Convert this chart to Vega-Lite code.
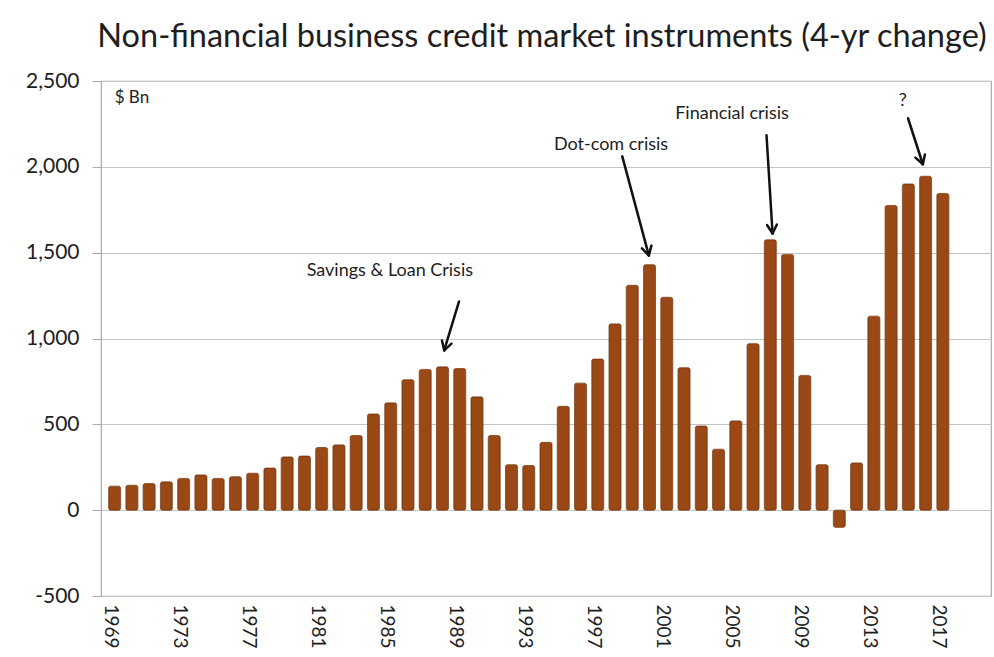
{
  "$schema": "https://vega.github.io/schema/vega-lite/v6.json",
  "width": 890,
  "height": 515,
  "autosize": {"type": "none"},
  "padding": {"left": 101, "top": 81, "right": 3, "bottom": 61},
  "background": "white",
  "config": {
    "font": "Lato",
    "view": {"stroke": "#a8a8a8", "strokeWidth": 1.2}
  },
  "title": {
    "text": "Non-financial business credit market instruments (4-yr change)",
    "fontSize": 32.5,
    "font": "Lato",
    "fontWeight": "normal",
    "color": "#1e1e1e",
    "anchor": "middle",
    "dx": -4,
    "offset": 17
  },
  "datasets": {
    "bars": [
      {"year": 1969, "value": 140}, {"year": 1970, "value": 145}, {"year": 1971, "value": 155},
      {"year": 1972, "value": 165}, {"year": 1973, "value": 185}, {"year": 1974, "value": 205},
      {"year": 1975, "value": 185}, {"year": 1976, "value": 195}, {"year": 1977, "value": 215},
      {"year": 1978, "value": 245}, {"year": 1979, "value": 310}, {"year": 1980, "value": 315},
      {"year": 1981, "value": 365}, {"year": 1982, "value": 380}, {"year": 1983, "value": 435},
      {"year": 1984, "value": 560}, {"year": 1985, "value": 625}, {"year": 1986, "value": 760},
      {"year": 1987, "value": 820}, {"year": 1988, "value": 835}, {"year": 1989, "value": 825},
      {"year": 1990, "value": 660}, {"year": 1991, "value": 435}, {"year": 1992, "value": 265},
      {"year": 1993, "value": 260}, {"year": 1994, "value": 395}, {"year": 1995, "value": 605},
      {"year": 1996, "value": 740}, {"year": 1997, "value": 880}, {"year": 1998, "value": 1085},
      {"year": 1999, "value": 1310}, {"year": 2000, "value": 1430}, {"year": 2001, "value": 1240},
      {"year": 2002, "value": 830}, {"year": 2003, "value": 490}, {"year": 2004, "value": 355},
      {"year": 2005, "value": 520}, {"year": 2006, "value": 970}, {"year": 2007, "value": 1575},
      {"year": 2008, "value": 1490}, {"year": 2009, "value": 785}, {"year": 2010, "value": 265},
      {"year": 2011, "value": -100}, {"year": 2012, "value": 275}, {"year": 2013, "value": 1130},
      {"year": 2014, "value": 1775}, {"year": 2015, "value": 1900}, {"year": 2016, "value": 1945},
      {"year": 2017, "value": 1845}
    ],
    "arrows": [
      {"arrow": "Savings & Loan", "part": "shaft", "xa": 1988.96, "ya": 1216, "xb": 1988.10, "yb": 931},
      {"arrow": "Savings & Loan", "part": "head1", "xa": 1988.52, "ya": 970, "xb": 1988.10, "yb": 931},
      {"arrow": "Savings & Loan", "part": "head2", "xa": 1987.97, "ya": 988, "xb": 1988.10, "yb": 931},
      {"arrow": "Dot-com", "part": "shaft", "xa": 1998.42, "ya": 2061, "xb": 1999.96, "yb": 1484},
      {"arrow": "Dot-com", "part": "head1", "xa": 2000.11, "ya": 1541, "xb": 1999.96, "yb": 1484},
      {"arrow": "Dot-com", "part": "head2", "xa": 1999.56, "ya": 1525, "xb": 1999.96, "yb": 1484},
      {"arrow": "Financial", "part": "shaft", "xa": 2006.78, "ya": 2184, "xb": 2007.13, "yb": 1612},
      {"arrow": "Financial", "part": "head1", "xa": 2007.38, "ya": 1664, "xb": 2007.13, "yb": 1612},
      {"arrow": "Financial", "part": "head2", "xa": 2006.81, "ya": 1661, "xb": 2007.13, "yb": 1612},
      {"arrow": "?", "part": "shaft", "xa": 2014.98, "ya": 2283, "xb": 2015.84, "yb": 2015},
      {"arrow": "?", "part": "head1", "xa": 2015.96, "ya": 2072, "xb": 2015.84, "yb": 2015},
      {"arrow": "?", "part": "head2", "xa": 2015.41, "ya": 2054, "xb": 2015.84, "yb": 2015}
    ],
    "notes": [
      {"label": "Savings & Loan Crisis", "x": 1984.95, "y": 1391},
      {"label": "Dot-com crisis", "x": 1997.77, "y": 2127},
      {"label": "Financial crisis", "x": 2004.78, "y": 2306},
      {"label": "?", "x": 2014.67, "y": 2383}
    ],
    "unit": [
      {"label": "$ Bn", "x": 1969.0, "y": 2399}
    ]
  },
  "layer": [
    {
      "data": {"name": "bars"},
      "mark": {"type": "bar", "width": 12, "color": "#9a4815", "stroke": "#7a3a10", "strokeWidth": 0.8, "cornerRadius": 2},
      "encoding": {
        "x": {
          "field": "year",
          "type": "quantitative",
          "scale": {"domain": [1968.5, 2019.5], "nice": false, "zero": false},
          "axis": {
            "title": null,
            "values": [1969, 1973, 1977, 1981, 1985, 1989, 1993, 1997, 2001, 2005, 2009, 2013, 2017],
            "format": "d",
            "labelAngle": 90,
            "labelFontSize": 19,
            "labelColor": "#1e1e1e",
            "labelPadding": 8,
            "labelOffset": -4,
            "ticks": false,
            "domain": false,
            "grid": false
          }
        },
        "y": {
          "field": "value",
          "type": "quantitative",
          "scale": {"domain": [-500, 2500], "nice": false},
          "axis": {
            "title": null,
            "values": [-500, 0, 500, 1000, 1500, 2000, 2500],
            "format": ",d",
            "labelExpr": "replace(datum.label, '\u2212', '-')",
            "labelFontSize": 21,
            "labelColor": "#1e1e1e",
            "labelPadding": 13,
            "tickSize": 9,
            "tickColor": "#a8a8a8",
            "domain": false,
            "grid": true,
            "gridColor": "#c4c4c4",
            "gridWidth": 1.2
          }
        }
      }
    },
    {
      "data": {"name": "arrows"},
      "mark": {"type": "rule", "strokeWidth": 2.5, "color": "#111111", "strokeCap": "round"},
      "encoding": {
        "x": {"field": "xa", "type": "quantitative"},
        "y": {"field": "ya", "type": "quantitative"},
        "x2": {"field": "xb"},
        "y2": {"field": "yb"},
        "detail": {"field": "part"}
      }
    },
    {
      "data": {"name": "notes"},
      "mark": {"type": "text", "fontSize": 18, "color": "#1e1e1e", "align": "center", "baseline": "middle"},
      "encoding": {
        "x": {"field": "x", "type": "quantitative"},
        "y": {"field": "y", "type": "quantitative"},
        "text": {"field": "label"}
      }
    },
    {
      "data": {"name": "unit"},
      "mark": {"type": "text", "fontSize": 17, "color": "#1e1e1e", "align": "left", "baseline": "middle"},
      "encoding": {
        "x": {"field": "x", "type": "quantitative"},
        "y": {"field": "y", "type": "quantitative"},
        "text": {"field": "label"}
      }
    }
  ]
}
